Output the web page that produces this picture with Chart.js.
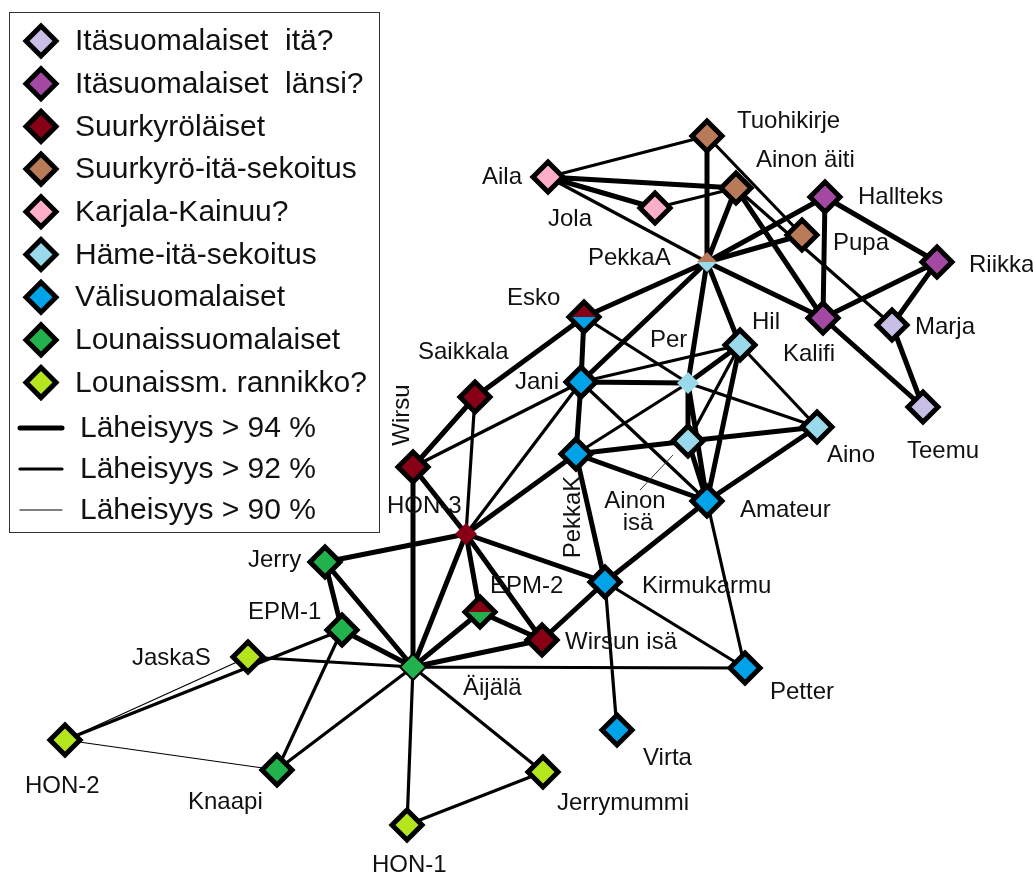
<!DOCTYPE html>
<html>
<head>
<meta charset="utf-8">
<title>Läheisyysverkko</title>
<script src="https://cdn.jsdelivr.net/npm/chart.js"></script>
<style>
    html, body { margin: 0; padding: 0; background: #fff; }
    canvas { display: block; }
</style>
</head>
<body>
<canvas id="net" width="1033" height="876"></canvas>
<script>
// Ryhmät (legendan järjestys)
const groupNames = ['Itäsuomalaiset  itä?', 'Itäsuomalaiset  länsi?', 'Suurkyröläiset',
    'Suurkyrö-itä-sekoitus', 'Karjala-Kainuu?', 'Häme-itä-sekoitus', 'Välisuomalaiset',
    'Lounaissuomalaiset', 'Lounaissm. rannikko?'];
const thresholdNames = ['Läheisyys > 94 %', 'Läheisyys > 92 %', 'Läheisyys > 90 %'];

// Solmut
const nodeNames = ['Tuohikirje', 'Ainon äiti', 'Aila', 'Jola', 'Hallteks', 'Pupa', 'Riikka', 'PekkaA',
    'Kalifi', 'Marja', 'Teemu', 'Esko', 'Hil', 'Per', 'Jani', 'Saikkala', 'Aino', 'Ainon isä',
    'Amateur', 'PekkaK', 'Wirsu', 'HON-3', 'Jerry', 'EPM-1', 'EPM-2', 'Kirmukarmu', 'Wirsun isä',
    'JaskaS', 'Äijälä', 'Petter', 'HON-2', 'Knaapi', 'Virta', 'Jerrymummi', 'HON-1'];
const nodeX = [707, 736, 548, 655, 825, 802, 937, 707, 823, 892, 923, 584, 740, 688, 581, 475, 817, 688,
    707, 576, 413, 466, 325, 342, 480, 605, 542, 248, 413, 745, 65, 277, 617, 543, 407];
const nodeY = [136, 188, 177, 208, 197, 235, 262, 262, 318, 325, 407, 317, 345, 383, 382, 397, 427, 441,
    501, 454, 467, 534, 562, 630, 612, 582, 640, 657, 667, 668, 740, 770, 730, 772, 825];
const nodeGroup = [3, 3, 4, 4, 1, 3, 1, 3, 1, 0, 0, 2, 5, 5, 6, 2, 5, 5,
    6, 6, 2, 2, 7, 7, 2, 6, 2, 8, 7, 6, 8, 7, 6, 8, 8];
// sekaryhmät: alaosan ryhmä
const nodeGroup2 = { 'Esko': 6, 'EPM-2': 7, 'PekkaA': 5 };

// Yhteydet
const edges94 = [
    ['Aila', 'Ainon äiti'], ['Aila', 'Jola'], ['Tuohikirje', 'PekkaA'], ['Ainon äiti', 'PekkaA'],
    ['Ainon äiti', 'Kalifi'], ['PekkaA', 'Hallteks'], ['PekkaA', 'Pupa'], ['PekkaA', 'Kalifi'],
    ['Hallteks', 'Kalifi'], ['Hallteks', 'Riikka'], ['Riikka', 'Kalifi'], ['Riikka', 'Marja'],
    ['Marja', 'Teemu'], ['Kalifi', 'Teemu'], ['PekkaA', 'Esko'], ['PekkaA', 'Jani'], ['PekkaA', 'Per'],
    ['PekkaA', 'Hil'], ['Esko', 'Saikkala'], ['Esko', 'Jani'], ['Jani', 'Per'], ['Jani', 'PekkaK'],
    ['Hil', 'Per'], ['Hil', 'Amateur'], ['Per', 'Ainon isä'], ['Per', 'Amateur'],
    ['PekkaK', 'Ainon isä'], ['Ainon isä', 'Aino'], ['Ainon isä', 'Amateur'], ['PekkaK', 'Amateur'],
    ['PekkaK', 'HON-3'], ['PekkaK', 'Kirmukarmu'], ['Amateur', 'Aino'], ['Amateur', 'Kirmukarmu'],
    ['Kirmukarmu', 'Wirsun isä'], ['Kirmukarmu', 'HON-3'], ['Saikkala', 'Wirsu'], ['Wirsu', 'HON-3'],
    ['Wirsu', 'Äijälä'], ['HON-3', 'Jerry'], ['HON-3', 'EPM-2'], ['HON-3', 'Wirsun isä'],
    ['HON-3', 'Äijälä'], ['Jerry', 'EPM-1'], ['Jerry', 'Äijälä'], ['EPM-1', 'Äijälä'],
    ['EPM-2', 'Wirsun isä'], ['EPM-2', 'Äijälä'], ['Wirsun isä', 'Äijälä']
];
const edges92 = [
    ['Aila', 'Tuohikirje'], ['Aila', 'PekkaA'], ['Jola', 'Ainon äiti'], ['Tuohikirje', 'Pupa'],
    ['Ainon äiti', 'Marja'], ['Esko', 'Per'], ['Jani', 'Hil'], ['Jani', 'Amateur'], ['Jani', 'Wirsu'],
    ['Jani', 'HON-3'], ['Hil', 'Ainon isä'], ['Hil', 'Aino'], ['Per', 'Aino'], ['Per', 'PekkaK'],
    ['Saikkala', 'HON-3'], ['Amateur', 'Petter'], ['Kirmukarmu', 'Petter'], ['Kirmukarmu', 'Virta'],
    ['Äijälä', 'Petter'], ['JaskaS', 'Äijälä'], ['EPM-1', 'Knaapi'], ['EPM-1', 'HON-2'],
    ['Knaapi', 'Äijälä'], ['Äijälä', 'HON-1'], ['Äijälä', 'Jerrymummi'], ['HON-1', 'Jerrymummi']
];
const edges90 = [['HON-2', 'JaskaS'], ['HON-2', 'Knaapi']];

// Tyylit
const groupColors = ['#c8bfe7', '#a349a4', '#880015', '#b97a57', '#ffaec9', '#99d9ea', '#00a2e8', '#22b14c', '#b5e61d'];
const edgeWidths = [5, 3.2, 1.2];
const smallNodes = { 'PekkaA': [10, 0], 'Per': [11, 0], 'HON-3': [11, 0], 'Äijälä': [13, 2] };
// [dx, dy, tasaus, kierto]
const labelPos = {
    'Tuohikirje': [30, -15], 'Ainon äiti': [20, -28], 'Aila': [-66, 0], 'Jola': [-107, 11],
    'Hallteks': [33, 0], 'Pupa': [31, 8], 'Riikka': [32, 3], 'PekkaA': [-119, -4],
    'Kalifi': [-40, 36], 'Marja': [23, 2], 'Teemu': [-16, 44], 'Esko': [-77, -19],
    'Hil': [12, -23], 'Per': [-38, -43], 'Jani': [-66, 0], 'Saikkala': [-57, -45],
    'Aino': [10, 28], 'Amateur': [33, 9], 'PekkaK': [-3, 63, 'center', -90],
    'Wirsu': [-11, -52, 'center', -90], 'HON-3': [-79, -28], 'Jerry': [-77, -2],
    'EPM-1': [-94, -18], 'EPM-2': [10, -26], 'Kirmukarmu': [37, 4], 'Wirsun isä': [23, 2],
    'JaskaS': [-116, 1], 'Äijälä': [50, 21], 'Petter': [25, 24], 'HON-2': [-40, 46],
    'Knaapi': [-89, 32], 'Virta': [26, 28], 'Jerrymummi': [14, 31], 'HON-1': [-35, 40]
};
const FONT = '"Liberation Sans", Arial, sans-serif';

function idx(name) { return nodeNames.indexOf(name); }

function edgePoints(list) {
    const pts = [];
    list.forEach(([a, b]) => {
        pts.push({ x: nodeX[idx(a)], y: nodeY[idx(a)] });
        pts.push({ x: nodeX[idx(b)], y: nodeY[idx(b)] });
        pts.push({ x: null, y: null });
    });
    return pts;
}

// vinoneliö, jonka ylä- ja alapuoli voivat olla eri väriä
function diamond(top, bottom, r, bw) {
    const s = 2 * Math.ceil(r + bw * 1.5 + 1);
    const c = document.createElement('canvas');
    c.width = s; c.height = s;
    const g = c.getContext('2d');
    const m = s / 2;
    g.beginPath(); g.moveTo(m - r, m); g.lineTo(m, m - r); g.lineTo(m + r, m); g.closePath();
    g.fillStyle = top; g.fill();
    g.beginPath(); g.moveTo(m - r, m + 0.01); g.lineTo(m, m + r); g.lineTo(m + r, m + 0.01); g.closePath();
    g.fillStyle = bottom; g.fill();
    if (bw > 0) {
        g.beginPath(); g.moveTo(m - r, m); g.lineTo(m, m - r); g.lineTo(m + r, m); g.lineTo(m, m + r); g.closePath();
        g.lineJoin = 'miter';
        g.lineWidth = bw;
        g.strokeStyle = '#000';
        g.stroke();
    }
    return c;
}

function nodeData(small) {
    return nodeNames.filter(n => (n in smallNodes) === small)
        .map(n => ({ x: nodeX[idx(n)], y: nodeY[idx(n)], name: n }));
}

const styleCache = {};
function nodeStyle(ctx) {
    const n = ctx.raw.name;
    if (!styleCache[n]) {
        const g = nodeGroup[idx(n)];
        const g2 = nodeGroup2[n] !== undefined ? nodeGroup2[n] : g;
        const [r, bw] = smallNodes[n] || [15, 5];
        styleCache[n] = diamond(groupColors[g], groupColors[g2], r, bw);
    }
    return styleCache[n];
}

const edgeSets = [edges94, edges92, edges90].map((list, i) => ({
    type: 'scatter',
    label: thresholdNames[i],
    data: edgePoints(list),
    showLine: true,
    spanGaps: false,
    borderColor: '#000',
    borderWidth: edgeWidths[i],
    pointRadius: 0,
    clip: false,
    order: 2
}));

// Tekstit ja legenda
const labelPlugin = {
    id: 'labels',
    afterDatasetsDraw(chart) {
        const ctx = chart.ctx;
        const xs = chart.scales.x, ys = chart.scales.y;
        ctx.save();
        ctx.fillStyle = '#111';
        ctx.font = '24px ' + FONT;
        ctx.textBaseline = 'middle';
        nodeNames.forEach((n, i) => {
            const px = xs.getPixelForValue(nodeX[i]);
            const py = ys.getPixelForValue(nodeY[i]);
            if (n === 'Ainon isä') {
                ctx.strokeStyle = '#333';
                ctx.lineWidth = 1;
                ctx.beginPath();
                ctx.moveTo(px - 48, py + 49);
                ctx.lineTo(px - 15, py + 14);
                ctx.stroke();
                ctx.textAlign = 'center';
                ctx.fillText('Ainon', px - 53, py + 60);
                ctx.fillText('isä', px - 50, py + 82);
                return;
            }
            const p = labelPos[n];
            ctx.save();
            ctx.translate(px + p[0], py + p[1]);
            if (p[3]) ctx.rotate(p[3] * Math.PI / 180);
            ctx.textAlign = p[2] || 'left';
            ctx.fillText(n, 0, 0);
            ctx.restore();
        });
        ctx.restore();
    },
    afterDraw(chart) {
        const ctx = chart.ctx;
        ctx.save();
        ctx.fillStyle = '#fff';
        ctx.fillRect(9.5, 12.5, 370, 520);
        ctx.strokeStyle = '#333';
        ctx.lineWidth = 1;
        ctx.strokeRect(9.5, 12.5, 370, 520);
        ctx.font = '30px ' + FONT;
        ctx.textBaseline = 'middle';
        ctx.textAlign = 'left';
        groupNames.forEach((name, i) => {
            const y = 41 + i * 42.7;
            ctx.beginPath();
            ctx.moveTo(26, y); ctx.lineTo(41, y - 15); ctx.lineTo(56, y); ctx.lineTo(41, y + 15);
            ctx.closePath();
            ctx.fillStyle = groupColors[i];
            ctx.fill();
            ctx.lineWidth = 5;
            ctx.lineJoin = 'miter';
            ctx.strokeStyle = '#000';
            ctx.stroke();
            ctx.fillStyle = '#111';
            ctx.fillText(name, 75, y + 1);
        });
        thresholdNames.forEach((name, i) => {
            const y = 428 + i * 41;
            ctx.beginPath();
            ctx.moveTo(20, y); ctx.lineTo(62, y);
            ctx.lineWidth = edgeWidths[i];
            ctx.lineCap = 'round';
            ctx.strokeStyle = '#000';
            ctx.stroke();
            ctx.fillStyle = '#111';
            ctx.fillText(name, 80, y + 1);
        });
        ctx.restore();
    }
};

new Chart(document.getElementById('net'), {
    type: 'scatter',
    data: {
        datasets: [
            {
                label: 'solmut',
                data: nodeData(false),
                pointStyle: nodeStyle,
                pointRadius: 15,
                borderWidth: 0,
                clip: false,
                order: 0
            },
            {
                label: 'pienet solmut',
                data: nodeData(true),
                pointStyle: nodeStyle,
                pointRadius: 11,
                borderWidth: 0,
                clip: false,
                order: 1
            },
            ...edgeSets
        ]
    },
    options: {
        responsive: false,
        animation: false,
        events: [],
        layout: { padding: 0, autoPadding: false },
        scales: {
            x: { type: 'linear', min: 0, max: 1033, display: false },
            y: { type: 'linear', min: 0, max: 876, reverse: true, display: false }
        },
        plugins: {
            legend: { display: false },
            tooltip: { enabled: false }
        }
    },
    plugins: [labelPlugin]
});
</script>
</body>
</html>
